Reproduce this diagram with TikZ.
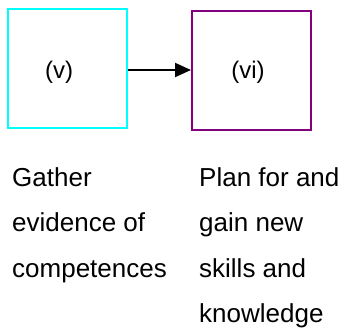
\documentclass[tikz,border=0pt]{standalone}
\usepackage{fontspec}
\setmainfont{Liberation Sans}
\usepackage{tikz}
\usetikzlibrary{arrows.meta}
\definecolor{boxcyan}{RGB}{0,255,255}
\definecolor{boxpurple}{RGB}{128,0,128}
\tikzset{
    stage/.style = {draw, line width = 2pt, minimum width = 119pt, minimum height = 119pt, inner sep = 0pt},
    stagelabel/.style = {font = \fontsize{24}{28}\selectfont},
    caption/.style = {font = \fontsize{26}{45.5}\selectfont, align = left, inner sep = 0pt, anchor = base west}
}
\begin{document}
\begin{tikzpicture}[x = 1pt, y = -1pt]
        \useasboundingbox (0,0) rectangle (345,327);
        \node (gather)[stage, draw = boxcyan] at ( 67.5,68) {};
        \node (plan)[stage, draw = boxpurple] at ( 251.5,70) {};
        \node (gather_label)[stagelabel] at ( 59,72) {(v)};
        \node (plan_label)[stagelabel] at ( 248,72) {(vi)};
        \node (gather_text)[caption] at ( 12,277) {Gather\\evidence of\\competences};
        \node (plan_text)[caption] at ( 199,322.5) {Plan for and\\gain new\\skills and\\knowledge};
        \path(gather.east |- plan.west) edge[-{Triangle[length=16pt, width=14pt]}, line width = 2pt] (plan.west);
    \end{tikzpicture}
\end{document}
